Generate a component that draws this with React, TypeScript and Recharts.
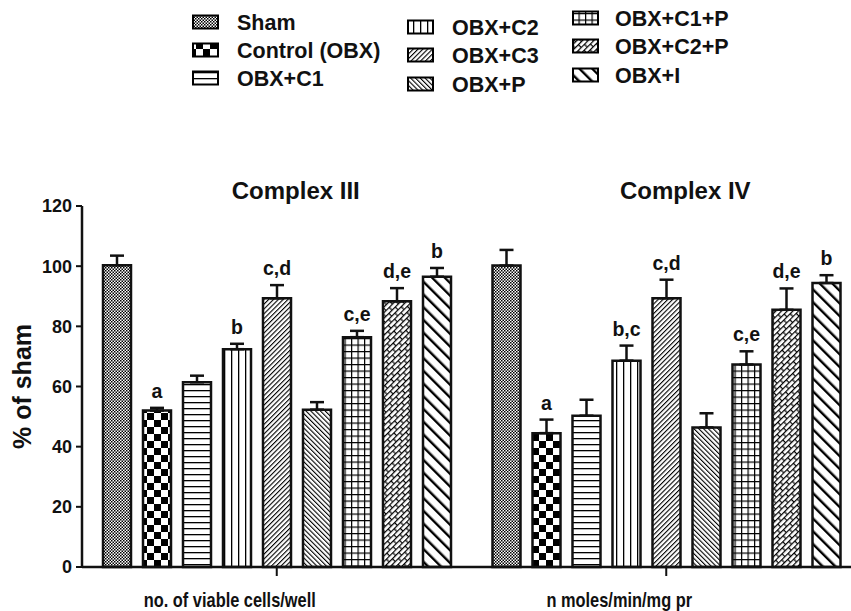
import React from 'react';
import { BarChart, Bar, XAxis, YAxis, ErrorBar, LabelList } from 'recharts';

const FONT = '"Liberation Sans", Arial, Helvetica, sans-serif';

const categories = ['Complex III', 'Complex IV'];
const axisCaptions = ['no. of viable cells/well', 'n moles/min/mg pr'];
const seriesNames = ['Sham', 'Control (OBX)', 'OBX+C1', 'OBX+C2', 'OBX+C3', 'OBX+P', 'OBX+C1+P', 'OBX+C2+P', 'OBX+I'];
const patternIds = ['pSham', 'pCtrl', 'pC1', 'pC2', 'pC3', 'pP', 'pC1P', 'pC2P', 'pI'];

const shamValues = [100.3, 100.2];
const controlValues = [52.0, 44.5];
const c1Values = [61.4, 50.3];
const c2Values = [72.4, 68.6];
const c3Values = [89.3, 89.3];
const pValues = [52.3, 46.4];
const c1pValues = [76.4, 67.3];
const c2pValues = [88.3, 85.5];
const iValues = [96.5, 94.4];

const shamErrors = [3.2, 5.2];
const controlErrors = [0.9, 4.5];
const c1Errors = [2.2, 5.3];
const c2Errors = [1.8, 5.0];
const c3Errors = [4.4, 6.2];
const pErrors = [2.5, 4.7];
const c1pErrors = [2.1, 4.4];
const c2pErrors = [4.4, 7.1];
const iErrors = [2.9, 2.6];

const shamLetters = ['', ''];
const controlLetters = ['a', 'a'];
const c1Letters = ['', ''];
const c2Letters = ['b', 'b,c'];
const c3Letters = ['c,d', 'c,d'];
const pLetters = ['', ''];
const c1pLetters = ['c,e', 'c,e'];
const c2pLetters = ['d,e', 'd,e'];
const iLetters = ['b', 'b'];

const yTicks = [0, 20, 40, 60, 80, 100, 120];

const seriesValues = [shamValues, controlValues, c1Values, c2Values, c3Values, pValues, c1pValues, c2pValues, iValues];
const seriesErrors = [shamErrors, controlErrors, c1Errors, c2Errors, c3Errors, pErrors, c1pErrors, c2pErrors, iErrors];
const seriesLetters = [shamLetters, controlLetters, c1Letters, c2Letters, c3Letters, pLetters, c1pLetters, c2pLetters, iLetters];

const rows = categories.map((c, ci) => {
  const r: any = { name: c, idx: ci };
  seriesValues.forEach((vals, si) => {
    r[`v${si}`] = vals[ci];
    r[`e${si}`] = [0, seriesErrors[si][ci]];
    r[`l${si}`] = seriesLetters[si][ci];
  });
  return r;
});

const Patterns = () => (
  <defs>
    <pattern id="pSham" width="3" height="3" patternUnits="userSpaceOnUse">
      <rect width="3" height="3" fill="#fff" />
      <rect width="1.5" height="1.5" fill="#000" />
      <rect x="1.5" y="1.5" width="1.5" height="1.5" fill="#000" />
    </pattern>
    <pattern id="pCtrl" width="14" height="14" patternUnits="userSpaceOnUse">
      <rect width="14" height="14" fill="#fff" />
      <rect width="7" height="7" fill="#000" />
      <rect x="7" y="7" width="7" height="7" fill="#000" />
    </pattern>
    <pattern id="pC1" width="6" height="6" patternUnits="userSpaceOnUse">
      <rect width="6" height="6" fill="#fff" />
      <rect y="0" width="6" height="1.3" fill="#000" />
    </pattern>
    <pattern id="pC2" width="7" height="7" patternUnits="userSpaceOnUse">
      <rect width="7" height="7" fill="#fff" />
      <rect x="0" width="1.3" height="7" fill="#000" />
    </pattern>
    <pattern id="pC3" width="3.4" height="10" patternUnits="userSpaceOnUse" patternTransform="rotate(45)">
      <rect width="3.4" height="10" fill="#fff" />
      <rect x="0" width="1.1" height="10" fill="#000" />
    </pattern>
    <pattern id="pP" width="3.4" height="10" patternUnits="userSpaceOnUse" patternTransform="rotate(-45)">
      <rect width="3.4" height="10" fill="#fff" />
      <rect x="0" width="1.1" height="10" fill="#000" />
    </pattern>
    <pattern id="pC1P" width="6.5" height="6.5" patternUnits="userSpaceOnUse">
      <rect width="6.5" height="6.5" fill="#fff" />
      <rect width="6.5" height="1.2" fill="#000" />
      <rect width="1.2" height="6.5" fill="#000" />
    </pattern>
    <pattern id="pC2P" width="8" height="9" patternUnits="userSpaceOnUse" patternTransform="rotate(45)">
      <rect width="8" height="9" fill="#fff" />
      <rect x="0" width="1.2" height="9" fill="#000" />
      <rect x="4" width="1.2" height="9" fill="#000" />
      <rect x="0" y="0" width="4" height="1.2" fill="#000" />
      <rect x="4" y="4.5" width="4" height="1.2" fill="#000" />
    </pattern>
    <pattern id="pI" width="9" height="10" patternUnits="userSpaceOnUse" patternTransform="rotate(-45)">
      <rect width="9" height="10" fill="#fff" />
      <rect x="0" width="2.4" height="10" fill="#000" />
    </pattern>
  </defs>
);

const legendCols = [
  { x: 193, textX: 237, ys: [22, 50, 78] },
  { x: 408, textX: 452, ys: [27, 55, 84] },
  { x: 573, textX: 615, ys: [18, 46, 75] },
];

const LegendBlock = () => (
  <svg width={851} height={100} style={{ position: 'absolute', left: 0, top: 0 }}>
    {seriesNames.map((name, i) => {
      const col = legendCols[Math.floor(i / 3)];
      const y = col.ys[i % 3];
      return (
        <g key={name}>
          <rect x={col.x} y={y - 6.5} width={25} height={13} fill={`url(#${patternIds[i]})`} stroke="#000" strokeWidth={2} />
          <text x={col.textX} y={y + 7.5} fontFamily={FONT} fontWeight="bold" fontSize={21.5} fill="#111">
            {name}
          </text>
        </g>
      );
    })}
  </svg>
);

const CategoryTick = (p: any) => {
  const { x, payload } = p;
  const i = payload && typeof payload.index === 'number' ? payload.index : categories.indexOf(payload.value);
  const cx = x - 47;
  return (
    <g>
      <text x={x + 19} y={199} textAnchor="middle" fontFamily={FONT} fontWeight="bold" fontSize={24} fill="#111">
        {categories[i]}
      </text>
      <text
        transform={`translate(${cx}, 607) scale(0.82, 1)`}
        textAnchor="middle"
        fontFamily={FONT}
        fontSize={20}
        fontWeight="bold"
        fill="#111"
      >
        {axisCaptions[i]}
      </text>
    </g>
  );
};

const makeLetterContent = (si: number) => (p: any) => {
  const vb = p.viewBox || p;
  const x = vb.x ?? p.x;
  const y = vb.y ?? p.y;
  const width = vb.width ?? p.width;
  const height = Math.abs(vb.height ?? p.height);
  const value = p.value;
  if (!value) return null;
  const idx = typeof p.index === 'number' ? p.index : 0;
  const row = rows[idx];
  const v = row[`v${si}`];
  const e = row[`e${si}`][1];
  const errPx = (height / v) * e;
  return (
    <text x={x + width / 2} y={y - errPx - 10} textAnchor="middle" fontFamily={FONT} fontWeight="bold" fontSize={19.5} fill="#111">
      {value}
    </text>
  );
};

const YLabel = (p: any) => {
  const vb = p.viewBox || { y: 206, height: 361 };
  const cy = vb.y + vb.height / 2;
  return (
    <text transform={`translate(31, ${cy}) rotate(-90)`} textAnchor="middle" fontFamily={FONT} fontWeight="bold" fontSize={25} fill="#111">
      % of sham
    </text>
  );
};

export default function App() {
  return (
    <div style={{ position: 'absolute', left: 0, top: 0, width: 851, height: 611, background: '#fff' }}>
      <BarChart
        width={851}
        height={611}
        data={rows}
        margin={{ top: 206, right: -10, bottom: 0, left: 0 }}
        barSize={28}
        barGap={12}
        barCategoryGap={20}
      >
        <Patterns />
        <XAxis
          dataKey="name"
          height={44}
          padding={{ left: 0, right: 0 }}
          axisLine={{ stroke: '#111', strokeWidth: 2.5 }}
          tickLine={{ stroke: '#111', strokeWidth: 2 }}
          tickSize={9}
          tick={<CategoryTick />}
          interval={0}
        />
        <YAxis
          width={82}
          domain={[0, 120]}
          ticks={yTicks}
          interval={0}
          axisLine={{ stroke: '#111', strokeWidth: 2.5 }}
          tickLine={{ stroke: '#111', strokeWidth: 2 }}
          tickSize={6}
          tickMargin={4}
          tick={{ fontFamily: FONT, fontWeight: 'bold', fontSize: 18, fill: '#111' }}
          label={{ content: <YLabel /> }}
        />
        {seriesNames.map((name, si) => (
          <Bar
            key={name}
            dataKey={`v${si}`}
            name={name}
            fill={`url(#${patternIds[si]})`}
            stroke="#111"
            strokeWidth={2.5}
            isAnimationActive={false}
          >
            <ErrorBar dataKey={`e${si}`} width={7} stroke="#111" strokeWidth={2.5} direction="y" isAnimationActive={false} />
            <LabelList dataKey={`l${si}`} content={makeLetterContent(si)} />
          </Bar>
        ))}
      </BarChart>
      <LegendBlock />
    </div>
  );
}
